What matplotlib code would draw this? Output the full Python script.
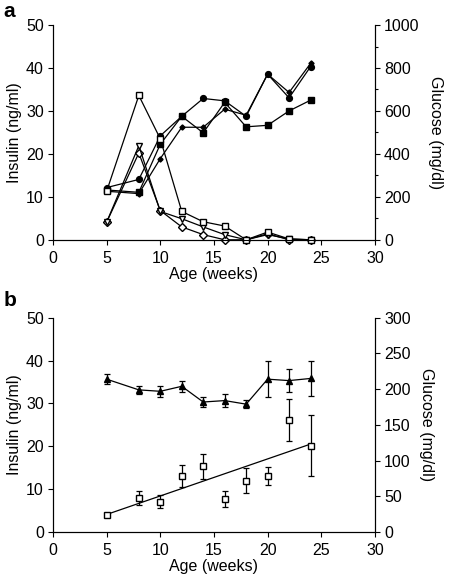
import matplotlib
matplotlib.use("Agg")
import matplotlib.pyplot as plt
from matplotlib.ticker import MultipleLocator
import numpy as np

plt.rcParams['font.family'] = ['Liberation Sans', 'DejaVu Sans']
plt.rcParams['font.size'] = 11.5

# panel a: age (weeks)
age_a = [5, 8, 10, 12, 14, 16, 18, 20, 22, 24]
# glucose (mg/dl), filled symbols, right axis
glu_circle = [243, 281, 484, 575, 658, 647, 575, 771, 661, 806]
glu_square = [232, 221, 445, 575, 498, 640, 526, 533, 600, 650]
glu_diamond = [226, 215, 378, 524, 524, 608, 580, 771, 686, 821]
# insulin (ng/ml), open symbols, left axis
ins_square = [11.3, 33.6, 23.5, 6.6, 4.2, 3.2, 0.0, 1.8, 0.2, 0.0]
ins_triangle = [4.1, 21.9, 6.6, 4.9, 3.0, 1.2, 0.0, 1.2, 0.2, 0.0]
ins_diamond = [4.1, 20.2, 6.8, 3.0, 1.2, 0.0, 0.0, 1.4, 0.0, 0.0]

# panel b
age_b = [5, 8, 10, 12, 14, 16, 18, 20, 22, 24]
glu_b = [214, 199, 197, 204, 182, 184, 179, 214, 212, 215]
glu_b_err = [7, 6, 8, 8, 7, 9, 6, 25, 16, 25]
ins_b = [3.9, 7.9, 7.1, 13.1, 15.3, 7.7, 12.0, 13.1, 26.2, 20.1]
ins_b_err = [0, 1.55, 1.5, 2.6, 2.9, 1.8, 2.9, 2.1, 4.9, 7.1]


def style_axes(ax, ax2, glu_max, glu_step, glu_minor=None):
    ax.set_xlim(0, 30)
    ax.set_ylim(0, 50)
    ax.xaxis.set_major_locator(MultipleLocator(5))
    ax.yaxis.set_major_locator(MultipleLocator(10))
    ax2.set_ylim(0, glu_max)
    ax2.yaxis.set_major_locator(MultipleLocator(glu_step))
    if glu_minor:
        ax2.yaxis.set_minor_locator(MultipleLocator(glu_minor))
    for a in (ax, ax2):
        a.spines['top'].set_visible(False)
        for s in a.spines.values():
            s.set_linewidth(0.8)
        a.tick_params(direction='out', length=3.6, width=0.8, labelsize=11.5, pad=3)
        a.tick_params(which='minor', direction='out', length=2.5, width=0.8)
    ax.tick_params(axis='x', pad=4.5)
    ax.set_xlabel('Age (weeks)', labelpad=0.5)
    ax.set_ylabel('Insulin (ng/ml)', labelpad=3)
    ax2.set_ylabel('Glucose (mg/dl)', rotation=270, labelpad=17)
    ax.set_zorder(ax2.get_zorder() + 1)
    ax.patch.set_visible(False)


fig = plt.figure(figsize=(4.49, 5.82), dpi=100)

# ---- panel a
ax = fig.add_axes([0.118, 0.588, 0.717, 0.369])
ax2 = ax.twinx()
lw = 0.9
ax2.plot(age_a, glu_circle, '-o', color='black', lw=lw, ms=4.2, clip_on=False)
ax2.plot(age_a, glu_square, '-s', color='black', lw=lw, ms=4.0, clip_on=False)
ax2.plot(age_a, glu_diamond, '-D', color='black', lw=lw, ms=2.6, clip_on=False)
ax.plot(age_a, ins_diamond, '-D', color='black', mfc='white', lw=lw, ms=3.6, clip_on=False)
ax.plot(age_a, ins_triangle, '-v', color='black', mfc='white', lw=lw, ms=5.0, clip_on=False)
ax.plot(age_a, ins_square, '-s', color='black', mfc='white', lw=lw, ms=4.6, clip_on=False)
style_axes(ax, ax2, 1000, 200, 100)
fig.text(0.008, 0.981, 'a', fontsize=15, fontweight='bold', va='center')

# ---- panel b
bx = fig.add_axes([0.118, 0.086, 0.717, 0.368])
bx2 = bx.twinx()
bx2.errorbar(age_b, glu_b, yerr=glu_b_err, fmt='-^', color='black', lw=lw,
             ms=4.4, capsize=2.3, elinewidth=0.9, capthick=0.9)
bx.errorbar(age_b, ins_b, yerr=ins_b_err, fmt='s', color='black', mfc='white',
            ms=4.8, capsize=2.3, elinewidth=0.9, capthick=0.9, zorder=3)
slope, icpt = np.polyfit(age_b, ins_b, 1)
xfit = np.array([min(age_b), max(age_b)])
bx.plot(xfit, slope * xfit + icpt, '-', color='black', lw=lw, zorder=2)
style_axes(bx, bx2, 300, 50)
fig.text(0.008, 0.484, 'b', fontsize=15, fontweight='bold', va='center')

fig.savefig('out.png', dpi=100)
